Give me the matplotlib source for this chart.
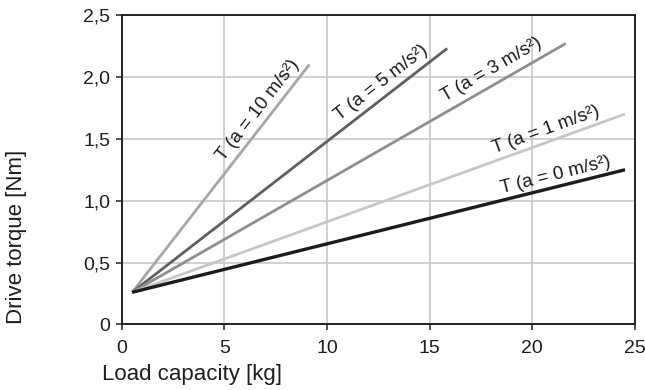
import numpy as np
import matplotlib
matplotlib.use("Agg")
import matplotlib.pyplot as plt

# data
x_start = 0.5
y_start = 0.26
accels = ["10", "5", "3", "1", "0"]
x_end = [9.14, 15.86, 21.64, 24.53, 24.53]
y_end = [2.10, 2.23, 2.27, 1.70, 1.25]
colors = ["#a6a6a6", "#5f5f5f", "#8e8e8e", "#c6c6c6", "#1c1c1c"]
widths = [2.0, 2.0, 2.0, 2.0, 2.4]
label_x = [6.65, 12.63, 18.02, 20.66, 21.14]
label_y = [1.73, 1.95, 2.06, 1.57, 1.21]

xticks = [0, 5, 10, 15, 20, 25]
yticks = [0, 0.5, 1.0, 1.5, 2.0, 2.5]
ytick_labels = ["0", "0,5", "1,0", "1,5", "2,0", "2,5"]

plt.rcParams['font.family'] = ['Liberation Sans', 'DejaVu Sans']

fig = plt.figure(figsize=(6.45, 3.9), dpi=100)
ax = fig.add_axes([0.189, 0.168, 0.795, 0.7935])

ax.set_xlim(0, 25)
ax.set_ylim(0, 2.5)
ax.set_xticks(xticks)
ax.set_xticklabels([str(t) for t in xticks])
ax.set_yticks(yticks)
ax.set_yticklabels(ytick_labels)
ax.grid(True, color="#c8c8c8", linewidth=1.2)
ax.set_axisbelow(True)
for s in ax.spines.values():
    s.set_color("#222222")
    s.set_linewidth(1.4)
ax.tick_params(axis='both', direction='out', length=4.5, width=1.1,
               color="#222222", labelsize=14, labelcolor="#1e1e1e")
ax.tick_params(axis='x', pad=7)
ax.tick_params(axis='y', pad=4)

for i in range(len(accels)):
    ax.plot([x_start, x_end[i]], [y_start, y_end[i]], color=colors[i],
            linewidth=widths[i], solid_capstyle='butt')

# rotate labels to follow the lines on screen
for i in range(len(accels)):
    p0 = ax.transData.transform((x_start, y_start))
    p1 = ax.transData.transform((x_end[i], y_end[i]))
    ang = np.degrees(np.arctan2(p1[1] - p0[1], p1[0] - p0[0]))
    ax.text(label_x[i], label_y[i], "T (a = " + accels[i] + " m/s²)",
            rotation=ang, rotation_mode='anchor', ha='center', va='center',
            fontsize=13.5, color="#1a1a1a")

ax.set_xlabel("Load capacity [kg]", fontsize=16, color="#1e1e1e")
ax.set_ylabel("Drive torque [Nm]", fontsize=16, color="#1e1e1e")
ax.xaxis.set_label_coords(0.137, -0.128)
ax.yaxis.set_label_coords(-0.186, 0.284)

fig.savefig("out.png", dpi=100)
